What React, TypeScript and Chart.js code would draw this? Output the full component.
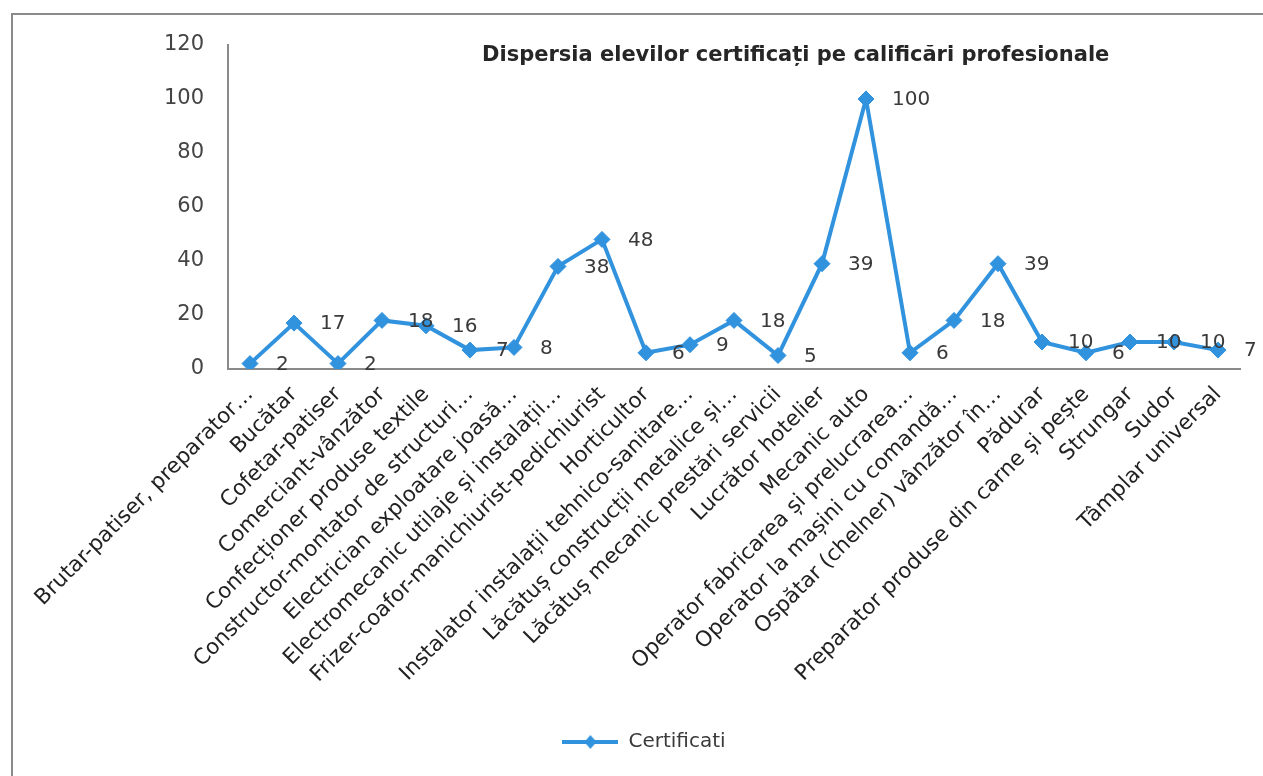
import React, { useEffect, useRef } from "react";
import { Chart, registerables } from "chart.js";

Chart.register(...registerables);

const categories: string[] = [
  "Brutar-patiser, preparator…",
  "Bucătar",
  "Cofetar-patiser",
  "Comerciant-vânzător",
  "Confecționer produse textile",
  "Constructor-montator de structuri…",
  "Electrician exploatare joasă…",
  "Electromecanic utilaje și instalații…",
  "Frizer-coafor-manichiurist-pedichiurist",
  "Horticultor",
  "Instalator instalații tehnico-sanitare…",
  "Lăcătuș construcții metalice și…",
  "Lăcătuș mecanic prestări servicii",
  "Lucrător hotelier",
  "Mecanic auto",
  "Operator fabricarea și prelucrarea…",
  "Operator la mașini cu comandă…",
  "Ospătar (chelner) vânzător în…",
  "Pădurar",
  "Preparator produse din carne și pește",
  "Strungar",
  "Sudor",
  "Tâmplar universal",
];

const certificati: number[] = [
  2, 17, 2, 18, 16, 7, 8, 38, 48, 6, 9, 18, 5, 39, 100, 6, 18, 39, 10, 6, 10, 10, 7,
];

const yTickValues: number[] = [0, 20, 40, 60, 80, 100, 120];

const seriesName = "Certificati";
const chartTitle = "Dispersia elevilor certificați pe calificări profesionale";

const W = 1263;
const H = 776;
const BLUE = "#3192de";
const FONT = "'DejaVu Sans', sans-serif";
const TEXT = "#3a3a3a";

function makeLegendIcon(): HTMLCanvasElement {
  const c = document.createElement("canvas");
  c.width = 56;
  c.height = 16;
  const g = c.getContext("2d")!;
  g.strokeStyle = BLUE;
  g.lineWidth = 4;
  g.beginPath();
  g.moveTo(0, 8);
  g.lineTo(56, 8);
  g.stroke();
  g.fillStyle = BLUE;
  g.beginPath();
  g.moveTo(28, 1);
  g.lineTo(34, 8);
  g.lineTo(28, 15);
  g.lineTo(22, 8);
  g.closePath();
  g.fill();
  return c;
}

const framePlugin = {
  id: "frame",
  beforeDraw(chart: any) {
    const ctx = chart.ctx;
    ctx.save();
    ctx.fillStyle = "#ffffff";
    ctx.fillRect(0, 0, chart.width, chart.height);
    ctx.strokeStyle = "#8a8a8a";
    ctx.lineWidth = 2;
    ctx.strokeRect(12, 14, chart.width + 20, chart.height + 20);
    ctx.restore();
  },
};

const titlePlugin = {
  id: "overlayTitle",
  afterDraw(chart: any) {
    const ctx = chart.ctx;
    ctx.save();
    ctx.font = `bold 21px ${FONT}`;
    ctx.fillStyle = "#262626";
    ctx.textAlign = "left";
    ctx.textBaseline = "middle";
    ctx.fillText(chartTitle, 482, 56);
    ctx.restore();
  },
};

const dataLabelPlugin = {
  id: "valueLabels",
  afterDatasetsDraw(chart: any) {
    const ctx = chart.ctx;
    const meta = chart.getDatasetMeta(0);
    const values = chart.data.datasets[0].data as number[];
    ctx.save();
    ctx.font = `20px ${FONT}`;
    ctx.fillStyle = TEXT;
    ctx.textAlign = "left";
    ctx.textBaseline = "middle";
    meta.data.forEach((pt: any, i: number) => {
      ctx.fillText(String(values[i]), pt.x + 26, pt.y + 1);
    });
    ctx.restore();
  },
};

export default function App() {
  const canvasRef = useRef<HTMLCanvasElement | null>(null);

  useEffect(() => {
    if (!canvasRef.current) return;
    const icon = makeLegendIcon();
    const chart = new Chart(canvasRef.current, {
      type: "line",
      data: {
        labels: categories,
        datasets: [
          {
            label: seriesName,
            data: certificati,
            borderColor: BLUE,
            backgroundColor: BLUE,
            borderWidth: 4,
            tension: 0,
            pointStyle: "rectRot",
            pointRadius: 8,
            pointBackgroundColor: BLUE,
            pointBorderColor: BLUE,
            pointBorderWidth: 1,
          },
        ],
      },
      options: {
        responsive: false,
        animation: false,
        devicePixelRatio: 1,
        layout: { padding: { top: 45, right: 23, left: 48, bottom: 14 } },
        plugins: {
          title: { display: false },
          tooltip: { enabled: false },
          legend: {
            display: true,
            position: "bottom",
            labels: {
              usePointStyle: true,
              pointStyle: icon as any,
              pointStyleWidth: 56,
              boxHeight: 16,
              padding: 10,
              color: TEXT,
              font: { family: FONT, size: 20 },
            },
          },
        },
        scales: {
          x: {
            type: "category",
            offset: true,
            grid: { display: false, drawTicks: false },
            border: { display: true, color: "#8a8a8a", width: 2 },
            ticks: {
              autoSkip: false,
              minRotation: 45,
              maxRotation: 45,
              padding: 13,
              color: "#222222",
              font: { family: FONT, size: 21.5 },
            },
            afterFit(scale: any) {
              scale.height = 353;
            },
          },
          y: {
            min: 0,
            max: 120,
            grid: { display: false, drawTicks: false },
            border: { display: true, color: "#8a8a8a", width: 2 },
            afterBuildTicks(scale: any) {
              scale.ticks = yTickValues.map((v) => ({ value: v }));
            },
            ticks: {
              padding: 24,
              color: "#444444",
              font: { family: FONT, size: 21 },
            },
            afterFit(scale: any) {
              scale.width = 180;
            },
          },
        },
      },
      plugins: [framePlugin, titlePlugin, dataLabelPlugin],
    });
    return () => chart.destroy();
  }, []);

  return (
    <div style={{ position: "fixed", left: 0, top: 0, width: W, height: H, background: "#fff" }}>
      <canvas ref={canvasRef} width={W} height={H} style={{ display: "block" }} />
    </div>
  );
}
